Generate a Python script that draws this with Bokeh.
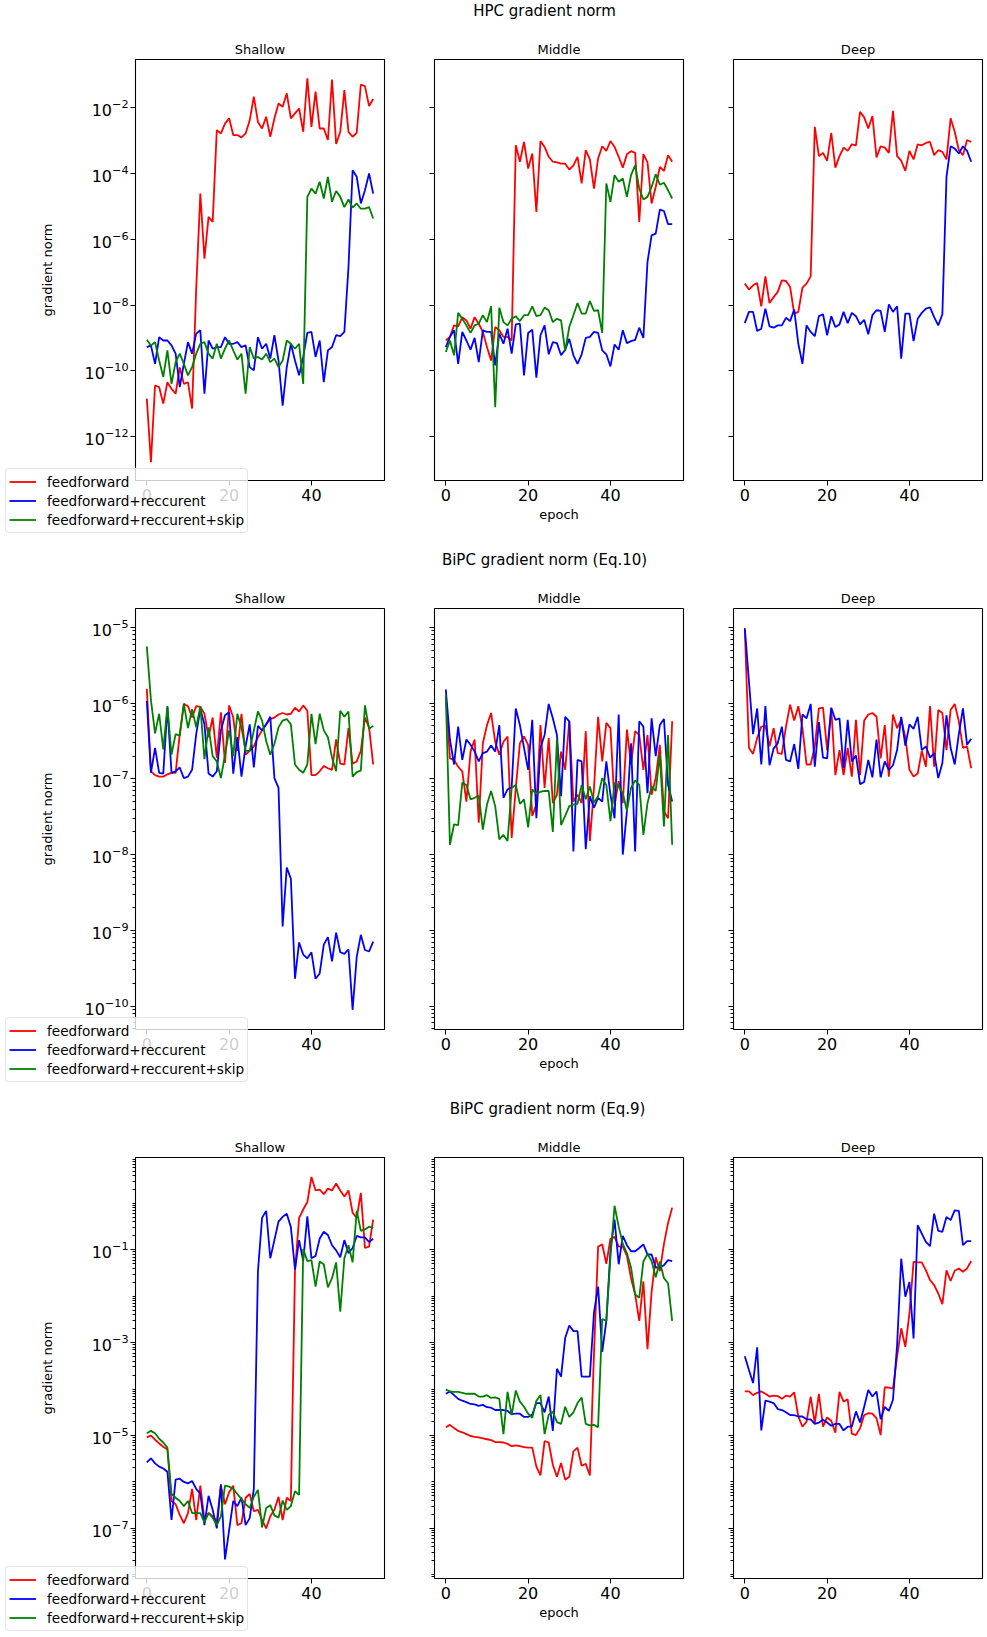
import math
import numpy as np
from bokeh.plotting import figure
from bokeh.models import (Range1d, FixedTicker, Legend, LegendItem, Label, BoxAnnotation,
                          LinearAxis, LogAxis, CustomJSTickFormatter)
from bokeh.layouts import column
from bokeh.embed import file_html
from bokeh.resources import INLINE

# ---------------- data (log10 of gradient norm) ----------------
EPOCHS = list(range(56))
SERIES_LABELS = ["feedforward", "feedforward+reccurent", "feedforward+reccurent+skip"]
PANEL_NAMES = ["Shallow", "Middle", "Deep"]
ROW_TITLES = ["HPC gradient norm", "BiPC gradient norm (Eq.10)", "BiPC gradient norm (Eq.9)"]
X_TICKS = [0, 20, 40]
X_LIM = (-2.75, 57.75)

# Row 1: HPC
HPC_SH_FF = [-10.85,-12.78,-10.45,-10.5,-11.0,-10.35,-10.55,-10.7,-9.9,-10.4,-10.35,-11.15,-7.5,-4.61,-6.59,-5.32,-5.47,-2.68,-2.78,-2.48,-2.32,-2.83,-2.83,-2.9,-2.78,-2.38,-1.66,-2.43,-2.63,-2.27,-2.88,-2.32,-1.87,-1.97,-1.56,-2.32,-2.17,-2.02,-2.73,-1.1,-2.58,-1.51,-2.63,-2.63,-2.98,-1.14,-3.1,-2.73,-1.46,-2.73,-2.88,-2.76,-1.29,-1.34,-1.95,-1.73]
HPC_SH_REC = [-9.28,-9.23,-9.79,-8.98,-9.08,-9.08,-9.23,-9.48,-10.5,-9.79,-9.13,-9.48,-8.87,-8.77,-10.7,-9.08,-9.33,-9.28,-9.28,-8.98,-9.18,-9.18,-9.13,-9.28,-9.23,-9.89,-9.99,-8.98,-9.33,-9.18,-9.63,-8.92,-9.69,-11.06,-9.89,-9.18,-9.69,-10.14,-9.58,-8.85,-8.82,-9.58,-9.08,-10.35,-9.38,-9.28,-8.92,-8.95,-8.82,-6.84,-3.9,-4.1,-4.91,-4.51,-4.0,-4.61]
HPC_SH_SKIP = [-9.06,-9.23,-9.13,-9.69,-10.19,-9.38,-10.4,-9.74,-9.48,-9.79,-10.14,-9.89,-9.48,-9.18,-9.13,-9.48,-9.63,-9.18,-9.63,-9.33,-9.08,-9.38,-9.66,-9.48,-10.7,-9.28,-9.63,-9.58,-9.66,-9.48,-9.74,-9.63,-9.89,-9.69,-9.08,-9.18,-9.33,-9.18,-10.4,-4.71,-4.46,-4.61,-4.25,-4.76,-4.1,-4.86,-4.53,-4.71,-5.02,-4.79,-5.04,-4.91,-5.07,-5.07,-5.02,-5.37]
HPC_MID_FF = [-9.08,-8.97,-8.62,-8.65,-8.37,-8.47,-8.72,-8.37,-8.57,-8.82,-9.28,-9.69,-8.67,-8.77,-8.97,-8.97,-9.08,-3.14,-3.64,-3.04,-3.85,-3.39,-5.17,-3.01,-3.19,-3.49,-3.64,-3.66,-3.7,-3.7,-3.88,-3.75,-3.49,-4.3,-3.29,-3.57,-4.46,-3.54,-3.17,-3.31,-3.01,-3.19,-3.49,-3.82,-3.41,-3.32,-3.37,-5.47,-3.41,-3.66,-4.91,-4.41,-3.8,-3.92,-3.44,-3.64]
HPC_MID_REC = [-9.28,-8.97,-8.77,-9.79,-8.82,-9.08,-9.36,-9.0,-9.74,-8.77,-8.82,-8.82,-9.84,-8.87,-9.18,-8.72,-9.48,-8.59,-8.57,-10.14,-8.85,-8.75,-10.21,-8.92,-8.62,-9.5,-9.13,-9.16,-9.53,-9.36,-9.03,-9.53,-9.79,-9.5,-9.0,-8.97,-8.82,-8.85,-9.38,-9.5,-9.87,-9.2,-9.36,-8.77,-9.16,-9.1,-9.06,-8.69,-9.0,-6.69,-5.88,-5.83,-5.1,-5.14,-5.54,-5.54]
HPC_MID_SKIP = [-9.43,-9.08,-9.53,-8.24,-8.42,-8.62,-8.85,-8.62,-8.57,-8.31,-8.52,-8.04,-11.11,-8.08,-8.52,-8.62,-8.42,-8.34,-8.49,-8.31,-8.31,-8.04,-8.34,-8.31,-8.08,-8.16,-8.52,-8.42,-8.47,-9.4,-8.67,-8.31,-7.94,-8.26,-8.26,-7.88,-8.18,-8.16,-8.85,-4.3,-4.86,-4.05,-4.25,-4.15,-4.71,-4.05,-3.75,-4.46,-4.79,-4.71,-4.41,-4.02,-4.34,-4.28,-4.51,-4.76]
HPC_DEEP_FF = [-7.35,-7.53,-7.4,-7.33,-8.04,-7.13,-7.94,-7.76,-7.6,-7.25,-7.27,-7.45,-8.26,-8.21,-7.47,-7.35,-7.13,-2.58,-3.47,-3.37,-3.61,-2.76,-3.82,-3.47,-3.21,-3.31,-3.11,-3.14,-2.12,-2.29,-2.63,-2.25,-3.51,-3.17,-3.21,-3.37,-2.09,-3.47,-3.61,-3.92,-3.31,-3.57,-3.11,-3.14,-3.07,-3.04,-3.44,-3.29,-3.34,-3.57,-2.32,-2.73,-3.29,-3.44,-2.98,-3.04]
HPC_DEEP_REC = [-8.55,-8.21,-8.21,-8.79,-8.72,-8.11,-8.65,-8.69,-8.62,-8.62,-8.39,-8.49,-8.14,-9.18,-9.79,-8.62,-8.82,-8.95,-8.34,-8.28,-8.92,-8.34,-8.67,-8.59,-8.21,-8.55,-8.24,-8.34,-8.59,-8.45,-8.89,-8.31,-8.16,-8.18,-8.82,-7.98,-8.21,-8.04,-9.63,-8.26,-8.26,-9.1,-8.42,-8.24,-8.11,-8.07,-8.37,-8.62,-8.28,-4.1,-3.17,-3.24,-3.39,-3.17,-3.31,-3.64]

# Row 2: BiPC Eq.10
EQ10_SH_FF = [-5.81,-6.9,-6.95,-6.97,-6.97,-6.94,-6.92,-6.92,-6.41,-6.01,-6.04,-6.19,-6.04,-6.05,-6.14,-6.45,-6.19,-6.72,-6.12,-6.79,-6.03,-6.19,-6.63,-6.14,-6.68,-6.63,-6.57,-6.45,-6.36,-6.28,-6.21,-6.19,-6.15,-6.13,-6.15,-6.14,-6.06,-6.11,-6.03,-6.1,-6.95,-6.95,-6.9,-6.83,-6.86,-6.88,-6.48,-6.8,-6.81,-6.33,-6.8,-6.77,-6.63,-6.19,-6.32,-6.81]
EQ10_SH_REC = [-5.97,-6.92,-6.59,-6.92,-6.93,-6.05,-6.92,-6.9,-6.85,-6.99,-6.97,-6.88,-6.41,-6.08,-6.28,-6.93,-6.97,-6.9,-6.36,-6.16,-6.12,-6.93,-6.45,-6.97,-6.57,-6.28,-6.85,-6.3,-6.36,-6.28,-6.18,-6.99,-7.12,-8.95,-8.17,-8.32,-9.64,-9.16,-9.32,-9.37,-9.29,-9.64,-9.57,-9.19,-9.09,-9.41,-9.03,-9.29,-9.31,-9.25,-10.05,-9.35,-9.06,-9.26,-9.28,-9.15]
EQ10_SH_SKIP = [-5.25,-5.96,-6.4,-6.14,-6.61,-6.04,-6.68,-6.41,-6.43,-6.01,-6.33,-6.08,-6.32,-6.04,-6.74,-6.32,-6.7,-6.77,-6.99,-6.68,-6.36,-6.7,-6.14,-6.32,-6.63,-6.63,-6.36,-6.11,-6.23,-6.5,-6.68,-6.54,-6.32,-6.23,-6.21,-6.28,-6.81,-6.88,-6.92,-6.81,-6.14,-6.54,-6.14,-6.36,-6.45,-6.72,-6.9,-6.1,-6.18,-6.11,-6.97,-6.91,-6.89,-6.03,-6.34,-6.3]
EQ10_MID_FF = [-5.91,-6.73,-6.75,-6.84,-6.9,-7.3,-6.64,-6.48,-7.58,-6.53,-6.29,-6.13,-6.51,-6.68,-6.51,-6.44,-7.78,-7.12,-6.53,-6.44,-6.55,-7.49,-7.34,-6.29,-7.12,-6.46,-7.32,-7.21,-6.64,-6.88,-6.24,-7.3,-7.21,-7.32,-6.37,-7.82,-7.12,-6.18,-6.77,-6.26,-6.33,-7.34,-7.03,-7.32,-6.35,-6.81,-6.37,-6.42,-6.88,-6.42,-7.21,-6.99,-6.55,-7.43,-7.52,-6.24]
EQ10_MID_REC = [-5.82,-6.48,-6.81,-6.31,-6.75,-6.48,-6.55,-6.64,-6.77,-6.66,-6.64,-6.56,-6.64,-6.29,-7.25,-7.14,-7.11,-6.07,-6.29,-6.59,-6.88,-6.22,-7.52,-6.59,-6.42,-6.01,-6.2,-6.42,-7.23,-6.18,-6.24,-7.96,-6.75,-6.77,-7.93,-7.23,-7.38,-7.25,-7.3,-6.77,-7.21,-7.52,-6.15,-8.0,-7.43,-6.53,-7.96,-6.24,-6.31,-7.19,-6.2,-6.7,-6.29,-6.21,-7.08,-7.3]
EQ10_MID_SKIP = [-5.89,-7.87,-7.6,-7.61,-7.05,-7.08,-7.27,-7.25,-7.22,-7.67,-7.34,-7.16,-7.36,-7.8,-7.74,-7.82,-7.12,-7.08,-7.33,-7.27,-7.64,-7.14,-7.2,-7.17,-7.16,-7.16,-7.7,-6.48,-7.61,-7.49,-7.36,-7.34,-7.33,-7.08,-7.27,-7.1,-7.31,-7.23,-6.99,-7.08,-7.56,-7.05,-7.1,-7.19,-7.42,-7.12,-7.02,-7.08,-7.74,-7.32,-7.1,-7.16,-6.68,-7.63,-6.42,-7.87]
EQ10_DEEP_FF = [-5.03,-6.59,-6.67,-6.46,-6.31,-6.3,-6.57,-6.33,-6.66,-6.67,-6.31,-6.02,-6.23,-6.04,-6.33,-6.81,-6.81,-6.57,-6.07,-6.06,-6.62,-6.07,-6.95,-6.62,-6.95,-6.59,-6.97,-6.22,-6.95,-6.23,-6.15,-6.13,-6.18,-6.73,-6.29,-6.97,-6.15,-6.33,-6.22,-6.45,-6.88,-6.97,-6.93,-6.63,-6.84,-6.04,-6.84,-6.09,-6.13,-6.62,-6.09,-6.01,-6.24,-6.59,-6.57,-6.86]
EQ10_DEEP_REC = [-5.01,-5.71,-6.41,-6.07,-6.81,-6.04,-6.82,-6.6,-6.53,-6.31,-6.75,-6.77,-6.54,-6.87,-6.15,-6.2,-6.01,-6.84,-6.25,-6.72,-6.73,-6.06,-6.22,-6.2,-6.86,-6.22,-6.77,-6.69,-7.07,-7.04,-6.75,-6.98,-6.48,-6.98,-6.77,-6.88,-6.82,-6.62,-6.18,-6.56,-6.28,-6.34,-6.18,-6.62,-6.57,-6.72,-6.66,-6.99,-6.79,-6.16,-6.59,-6.81,-6.41,-6.07,-6.55,-6.47]

# Row 3: BiPC Eq.9
EQ9_SH_FF = [-5.04,-5.0,-5.09,-5.17,-5.24,-5.3,-6.41,-6.48,-6.71,-6.89,-6.67,-6.15,-6.82,-6.08,-6.82,-6.67,-6.74,-6.85,-6.08,-6.48,-6.22,-6.08,-6.93,-6.89,-6.34,-6.26,-6.63,-6.6,-6.82,-7.0,-6.74,-6.6,-6.32,-6.82,-6.34,-6.41,-1.46,-0.31,-0.13,0.03,0.57,0.28,0.3,0.2,0.32,0.28,0.43,0.28,0.15,0.28,-0.2,-0.31,0.23,-0.96,-0.93,-0.35]
EQ9_SH_REC = [-5.58,-5.49,-5.6,-5.67,-5.71,-5.78,-6.82,-5.95,-5.93,-6.0,-6.03,-5.98,-6.15,-6.25,-6.93,-6.3,-6.6,-7.0,-6.05,-7.67,-7.04,-6.41,-6.52,-6.34,-6.93,-6.78,-6.15,-1.46,-0.31,-0.16,-1.18,-0.79,-0.39,-0.29,-0.22,-0.51,-1.42,-0.79,-1.24,-0.28,-1.18,-1.13,-0.76,-0.61,-0.68,-0.9,-1.01,-1.16,-0.79,-1.07,-0.96,-0.7,-0.73,-0.73,-0.83,-0.76]
EQ9_SH_SKIP = [-4.95,-4.9,-4.95,-5.07,-5.15,-5.26,-6.26,-6.34,-6.41,-6.52,-6.41,-6.67,-6.67,-6.67,-6.87,-6.67,-6.77,-6.93,-6.74,-6.08,-6.1,-6.15,-6.26,-6.37,-6.48,-6.56,-6.32,-6.17,-6.98,-6.56,-6.5,-6.72,-6.77,-6.4,-6.6,-6.52,-6.2,-6.28,-0.98,-1.24,-1.22,-1.79,-1.25,-1.31,-1.81,-1.61,-1.27,-2.33,-1.18,-0.9,-1.27,-0.16,-0.59,-0.56,-0.5,-0.53]
EQ9_MID_FF = [-4.82,-4.77,-4.84,-4.9,-4.93,-4.97,-5.01,-5.03,-5.04,-5.06,-5.08,-5.1,-5.14,-5.14,-5.15,-5.18,-5.23,-5.21,-5.23,-5.25,-5.26,-5.26,-5.67,-5.86,-5.12,-5.15,-5.63,-5.89,-5.59,-5.95,-5.89,-5.34,-5.26,-5.65,-5.61,-5.86,-3.23,-0.93,-0.88,-1.3,-0.76,-0.72,-0.93,-0.93,-1.13,-1.61,-1.96,-2.53,-1.68,-3.14,-1.9,-1.16,-1.46,-0.87,-0.42,-0.09]
EQ9_MID_REC = [-4.1,-4.05,-4.13,-4.21,-4.25,-4.28,-4.32,-4.33,-4.36,-4.34,-4.39,-4.4,-4.45,-4.45,-4.45,-4.47,-4.54,-4.53,-4.53,-4.6,-4.6,-4.55,-4.3,-4.3,-4.5,-4.16,-4.9,-3.56,-3.73,-2.9,-2.63,-2.75,-2.75,-3.73,-3.73,-3.73,-2.35,-1.79,-3.2,-2.53,-1.01,-0.35,-1.31,-0.7,-0.9,-1.03,-1.03,-0.96,-0.88,-1.1,-1.1,-1.38,-1.38,-1.33,-1.22,-1.24]
EQ9_MID_SKIP = [-4.01,-4.05,-4.06,-4.06,-4.08,-4.1,-4.1,-4.1,-4.16,-4.16,-4.13,-4.19,-4.18,-4.21,-4.97,-4.06,-4.56,-4.03,-4.27,-4.38,-4.53,-4.62,-4.25,-4.13,-4.97,-4.55,-4.49,-4.71,-4.75,-4.38,-4.6,-4.5,-4.3,-4.18,-4.75,-4.78,-4.77,-4.82,-2.49,-2.53,-1.16,-0.05,-0.5,-0.87,-1.07,-1.38,-1.96,-2.03,-1.25,-1.09,-1.24,-1.59,-1.25,-1.61,-1.72,-2.53]
EQ9_DEEP_FF = [-4.05,-4.05,-4.13,-4.08,-4.05,-4.1,-4.16,-4.14,-4.15,-4.21,-4.14,-4.16,-4.07,-4.59,-4.81,-4.7,-4.16,-4.73,-4.1,-4.81,-4.61,-4.68,-4.94,-4.06,-4.27,-4.22,-4.96,-4.99,-4.84,-4.56,-4.52,-4.53,-4.63,-4.99,-3.96,-3.97,-3.99,-3.3,-2.69,-3.09,-2.37,-1.26,-1.27,-1.27,-1.44,-1.65,-1.76,-1.94,-2.17,-1.44,-1.67,-1.45,-1.4,-1.47,-1.4,-1.24]
EQ9_DEEP_REC = [-3.29,-3.59,-3.87,-3.1,-4.89,-4.25,-4.27,-4.3,-4.43,-4.45,-4.5,-4.56,-4.56,-4.59,-4.59,-4.65,-4.65,-4.75,-4.72,-4.66,-4.72,-4.79,-4.75,-4.75,-4.89,-4.81,-4.81,-4.48,-4.72,-4.38,-4.02,-4.16,-4.05,-4.65,-4.38,-4.47,-4.23,-3.05,-1.19,-2.01,-1.69,-2.91,-0.47,-0.65,-0.83,-0.92,-0.22,-0.59,-0.61,-0.29,-0.36,-0.15,-0.16,-0.9,-0.81,-0.81]

# y limits (log10) and labelled tick exponents per row
HPC_YLIM = (-13.34, -0.53)
HPC_YTICK_EXP = [-12, -10, -8, -6, -4, -2]
EQ10_YLIM = (-10.31, -4.75)
EQ10_YTICK_EXP = [-10, -9, -8, -7, -6, -5]
EQ9_YLIM = (-8.08, 0.99)
EQ9_YTICK_EXP = [-7, -5, -3, -1]

# ---------------- styling / layout ----------------
FONT = "DejaVu Sans"
COLORS = ["#ff0000", "#0000ff", "#008000"]
TOTAL_W = 987
BOX_W, BOX_H = 249, 421
BOX_LEFT = [135, 434, 733]          # left edge of each panel box (px)
RANGE_NAMES = ["default", "middle", "deep"]


def minor_ticks(lim, majors, subs):
    out = []
    for k in range(int(math.floor(lim[0])) - 1, int(math.ceil(lim[1])) + 1):
        for m in subs:
            v = m * 10.0 ** k
            if m == 1 and k in majors:
                continue
            if 10 ** lim[0] <= v <= 10 ** lim[1]:
                out.append(v)
    return out


def style_axis(ax):
    ax.axis_line_color = None
    ax.major_tick_line_color = "black"
    ax.major_tick_out = 5
    ax.major_tick_in = 0
    ax.minor_tick_line_color = "black"
    ax.minor_tick_out = 3
    ax.minor_tick_in = 0
    ax.major_label_text_font = FONT
    ax.major_label_text_font_size = "16px"
    ax.major_label_text_color = "black"


def text(p, x, y_down, H, s, size="13px", angle=0.0):
    p.add_layout(Label(x=x, y=H - y_down, x_units="screen", y_units="screen",
                       text=s, text_align="center", text_baseline="middle",
                       angle=angle, text_font=FONT, text_font_size=size,
                       text_color="black"))


def make_row(H, T, row_title, title_x, series_sets, ylim, ytick_exp, minors, legend_vy):
    lo, hi = ylim
    d = (hi - lo) / BOX_H
    y_top = hi + T * d
    y_bot = lo - (H - T - BOX_H) * d
    s = (X_LIM[1] - X_LIM[0]) / BOX_W
    ranges = []
    for L in BOX_LEFT:
        start = X_LIM[0] - L * s
        ranges.append(Range1d(start, start + TOTAL_W * s))

    p = figure(frame_width=TOTAL_W, frame_height=H, x_range=ranges[0],
               y_range=Range1d(10 ** y_bot, 10 ** y_top), y_axis_type="log",
               x_axis_location=None, y_axis_location=None, title_location=None,
               min_border=0, toolbar_location=None, output_backend="svg")
    p.extra_x_ranges = {"middle": ranges[1], "deep": ranges[2]}
    for g in p.grid:
        g.visible = False
        g.grid_line_color = None
    p.outline_line_color = None
    p.background_fill_color = "white"
    p.border_fill_color = "white"

    first_renderers = []
    for i, series in enumerate(series_sets):
        rn = RANGE_NAMES[i]
        # series
        for vals, color in zip(series, COLORS):
            r = p.line(EPOCHS[:len(vals)], (10.0 ** np.array(vals)).tolist(),
                       x_range_name=rn, line_color=color, line_width=1.8)
            if i == 0:
                first_renderers.append(r)
        # panel box (axes spines)
        p.add_layout(BoxAnnotation(left=X_LIM[0], right=X_LIM[1],
                                   bottom=10 ** lo, top=10 ** hi,
                                   x_range_name=rn, fill_color=None, fill_alpha=0,
                                   line_color="black", line_alpha=1.0,
                                   line_width=1.1, level="guide"))
        # x axis
        xa = LinearAxis(x_range_name=rn, fixed_location=10 ** lo,
                        ticker=FixedTicker(ticks=X_TICKS))
        style_axis(xa)
        xa.major_label_standoff = 3
        p.add_layout(xa, "below")
        # y axis
        ya = LogAxis(x_range_name=rn, fixed_location=X_LIM[0],
                     ticker=FixedTicker(ticks=[10.0 ** e for e in ytick_exp],
                                        minor_ticks=minors))
        style_axis(ya)
        ya.major_label_standoff = 2
        if i > 0:
            ya.formatter = CustomJSTickFormatter(code="return ''")
        p.add_layout(ya, "left")
        # panel title
        text(p, BOX_LEFT[i] + BOX_W / 2, T - 10, H, PANEL_NAMES[i])

    text(p, title_x, T - 48.3, H, row_title, size="15px")
    text(p, 47, T + BOX_H / 2, H, "gradient norm", angle=math.pi / 2)
    text(p, BOX_LEFT[1] + BOX_W / 2, T + BOX_H + 33.5, H, "epoch")

    items = [LegendItem(label=lab, renderers=[r])
             for lab, r in zip(SERIES_LABELS, first_renderers)]
    legend = Legend(items=items, location=(5, legend_vy),
                    padding=3, spacing=0, margin=0,
                    label_height=19, glyph_height=19, glyph_width=27,
                    label_standoff=11, label_text_font=FONT,
                    label_text_font_size="13.6px", label_text_color="black",
                    border_line_color="#cccccc", border_line_width=1,
                    background_fill_color="white", background_fill_alpha=0.8)
    if "border_radius" in Legend.properties():
        legend.border_radius = 4
    p.add_layout(legend)
    return p


row1 = make_row(533, 59, ROW_TITLES[0], 544,
                [(HPC_SH_FF, HPC_SH_REC, HPC_SH_SKIP),
                 (HPC_MID_FF, HPC_MID_REC, HPC_MID_SKIP),
                 (HPC_DEEP_FF, HPC_DEEP_REC)],
                HPC_YLIM, HPC_YTICK_EXP, [], 0)
row2 = make_row(549, 75, ROW_TITLES[1], 544,
                [(EQ10_SH_FF, EQ10_SH_REC, EQ10_SH_SKIP),
                 (EQ10_MID_FF, EQ10_MID_REC, EQ10_MID_SKIP),
                 (EQ10_DEEP_FF, EQ10_DEEP_REC)],
                EQ10_YLIM, EQ10_YTICK_EXP,
                minor_ticks(EQ10_YLIM, EQ10_YTICK_EXP, range(2, 10)), 0)
row3 = make_row(555, 75, ROW_TITLES[2], 547,
                [(EQ9_SH_FF, EQ9_SH_REC, EQ9_SH_SKIP),
                 (EQ9_MID_FF, EQ9_MID_REC, EQ9_MID_SKIP),
                 (EQ9_DEEP_FF, EQ9_DEEP_REC)],
                EQ9_YLIM, EQ9_YTICK_EXP,
                minor_ticks(EQ9_YLIM, EQ9_YTICK_EXP, range(1, 10)), 6)

layout = column(row1, row2, row3, spacing=0)
open("out.html", "w").write(file_html(layout, INLINE))
